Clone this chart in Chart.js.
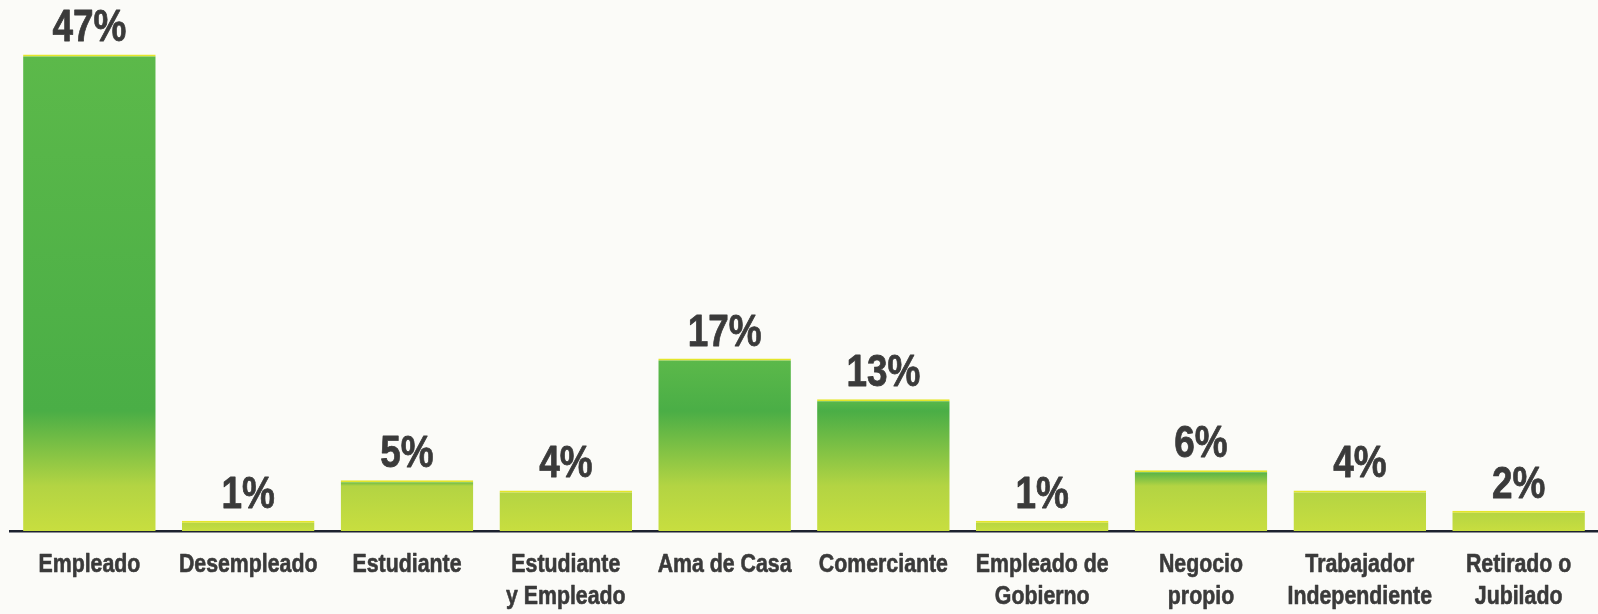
<!DOCTYPE html>
<html>
<head>
<meta charset="utf-8">
<script src="https://cdn.jsdelivr.net/npm/chart.js@4"></script>
<style>
  html, body { margin: 0; padding: 0; background: #fbfbf8; }
  #wrap { width: 1598px; height: 614px; position: relative; }
</style>
</head>
<body>
<div id="wrap"><canvas id="ocupacion-chart"></canvas></div>
<script>
// categorías y porcentajes
const categorias = [
    'Empleado',
    'Desempleado',
    'Estudiante',
    ['Estudiante', 'y Empleado'],
    'Ama de Casa',
    'Comerciante',
    ['Empleado de', 'Gobierno'],
    ['Negocio', 'propio'],
    ['Trabajador', 'Independiente'],
    ['Retirado o', 'Jubilado']
];
const porcentajes = [47, 1, 5, 4, 17, 13, 1, 6, 4, 2];
const ejeMax = 50;

const fuente = '"Liberation Sans", Arial, sans-serif';
const estrecho = 0.82; // simula una tipografía condensada

function clamp01(v) {
    return Math.max(0, Math.min(1, v));
}

// degradado verde -> amarillo hacia la base de cada barra
function colorBarra(context) {
    const chart = context.chart;
    const escala = chart.scales.y;
    if (!chart.chartArea || !escala) return '#55b548';
    const top = escala.getPixelForValue(context.raw);
    const base = escala.getPixelForValue(0);
    const h = Math.max(1, base - top);
    const g = chart.ctx.createLinearGradient(0, top, 0, base);
    g.addColorStop(0, '#5cb94a');
    g.addColorStop(clamp01(1 - 120 / h), '#4aae46');
    g.addColorStop(clamp01(1 - 45 / h), '#b3d443');
    g.addColorStop(1, '#c8de3f');
    return g;
}

function textoEstrecho(ctx, texto, x, y) {
    ctx.save();
    ctx.translate(x, y);
    ctx.scale(estrecho, 1);
    ctx.strokeText(texto, 0, 0);
    ctx.fillText(texto, 0, 0);
    ctx.restore();
}

// porcentajes encima de las barras y nombres de categoría bajo el eje
const etiquetasPlugin = {
    id: 'etiquetas',
    afterDatasetsDraw(chart) {
        const ctx = chart.ctx;
        const meta = chart.getDatasetMeta(0);
        const x = chart.scales.x;
        const base = chart.chartArea.bottom;
        ctx.save();
        ctx.textAlign = 'center';
        ctx.textBaseline = 'alphabetic';
        ctx.fillStyle = '#3a3a3a';
        ctx.strokeStyle = '#3a3a3a';
        ctx.lineJoin = 'round';

        ctx.font = 'bold 45px ' + fuente;
        ctx.lineWidth = 0.8;
        meta.data.forEach(function(bar, i) {
            textoEstrecho(ctx, porcentajes[i] + '%', bar.x, bar.y - 13);
        });

        ctx.font = 'bold 26px ' + fuente;
        ctx.lineWidth = 0.6;
        categorias.forEach(function(cat, i) {
            const lineas = Array.isArray(cat) ? cat : [cat];
            const px = x.getPixelForValue(i);
            lineas.forEach(function(linea, j) {
                textoEstrecho(ctx, linea, px, base + 41 + j * 31.5);
            });
        });
        ctx.restore();
    }
};

const ctx = document.getElementById('ocupacion-chart').getContext('2d');

new Chart(ctx, {
    type: 'bar',
    data: {
        labels: categorias,
        datasets: [{
            data: porcentajes,
            backgroundColor: colorBarra,
            borderColor: '#e4e62a',
            borderWidth: { top: 2, left: 0, right: 0, bottom: 0 },
            borderSkipped: false,
            categoryPercentage: 0.835,
            barPercentage: 1
        }]
    },
    options: {
        responsive: true,
        maintainAspectRatio: false,
        animation: false,
        layout: {
            padding: { top: 24, left: 10, right: 0, bottom: 0 }
        },
        scales: {
            y: {
                display: false,
                min: 0,
                max: ejeMax
            },
            x: {
                afterFit: function(scale) {
                    scale.height = 83;
                },
                grid: { display: false, drawTicks: false },
                border: { display: true, color: '#1d2230', width: 2.5 },
                ticks: { display: false }
            }
        },
        plugins: {
            legend: { display: false },
            tooltip: { enabled: false }
        }
    },
    plugins: [etiquetasPlugin]
});
</script>
</body>
</html>
